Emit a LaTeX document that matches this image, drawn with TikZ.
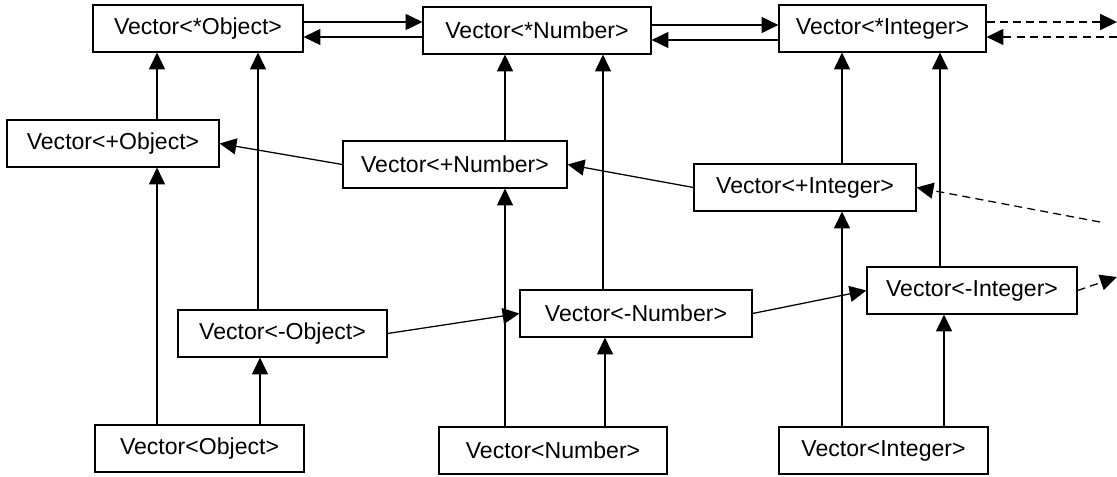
\documentclass[tikz,border=0pt]{standalone}
\usepackage{fontspec}
\setmainfont{Liberation Sans}
\usetikzlibrary{arrows.meta}

\begin{document}
\begin{tikzpicture}[x=0.025cm,y=-0.025cm,
  vec/.style={draw,line width=0.8pt,minimum height=1.175cm,inner sep=0pt,
              font=\fontsize{16.4}{19}\selectfont},
  every edge/.style={draw,line width=0.9pt,-{Triangle[length=0.42cm,width=0.4cm]}},
  dashedge/.style={dash pattern=on 0.2cm off 0.13cm}]
  \useasboundingbox (0,0) rectangle (1117,477);

  % star row
  \node[vec,minimum width=5.25cm]  (sObj) at (198,28.5)   {Vector<*Object>};
  \node[vec,minimum width=5.7cm]   (sNum) at (537,30.5)   {Vector<*Number>};
  \node[vec,minimum width=5.175cm] (sInt) at (882.5,28.5) {Vector<*Integer>};
  % plus row
  \node[vec,minimum width=5.3cm]   (pObj) at (113,143.5)  {Vector<+Object>};
  \node[vec,minimum width=5.6cm]   (pNum) at (455,164.5)  {Vector<+Number>};
  \node[vec,minimum width=5.55cm]  (pInt) at (805,187.5)  {Vector<+Integer>};
  % minus row
  \node[vec,minimum width=5.225cm] (mObj) at (282.5,333.5) {Vector<-Object>};
  \node[vec,minimum width=5.8cm]   (mNum) at (636,313.5)   {Vector<-Number>};
  \node[vec,minimum width=5.25cm]  (mInt) at (972,290.5)   {Vector<-Integer>};
  % plain row
  \node[vec,minimum width=5.225cm] (Obj) at (199.5,448.5) {Vector<Object>};
  \node[vec,minimum width=5.7cm]   (Num) at (553,450.5)   {Vector<Number>};
  \node[vec,minimum width=5.225cm] (Int) at (883.5,450.5) {Vector<Integer>};

  \coordinate (sOut) at (1117,22);
  \coordinate (sIn)  at (1117,37);
  \coordinate (pIn)  at (1100,222);
  \coordinate (mOut) at (1117,277);

  \path
    (sObj.east |- 0,22) edge (sNum.west |- 0,22)
    (sNum.west |- 0,37) edge (sObj.east |- 0,37)
    (sNum.east |- 0,25) edge (sInt.west |- 0,25)
    (sInt.west |- 0,40) edge (sNum.east |- 0,40)
    (sInt.east |- sOut) edge [dashedge] (sOut)
    (sIn) edge [dashedge] (sInt.east |- sIn)

    (157,0 |- Obj.north)  edge (157,0 |- pObj.south)
    (157,0 |- pObj.north) edge (157,0 |- sObj.south)
    (260,0 |- Obj.north)  edge (260,0 |- mObj.south)
    (258,0 |- mObj.north) edge (258,0 |- sObj.south)

    (505,0 |- Num.north)  edge (505,0 |- pNum.south)
    (505,0 |- pNum.north) edge (505,0 |- sNum.south)
    (605,0 |- Num.north)  edge (605,0 |- mNum.south)
    (603,0 |- mNum.north) edge (603,0 |- sNum.south)

    (842,0 |- Int.north)  edge (842,0 |- pInt.south)
    (842,0 |- pInt.north) edge (842,0 |- sInt.south)
    (944,0 |- Int.north)  edge (944,0 |- mInt.south)
    (940,0 |- mInt.north) edge (940,0 |- sInt.south)

    (pNum.west) edge (pObj.east)
    (pInt.west) edge (pNum.east)
    (pIn) edge [dashedge] (pInt.east)

    (mObj.east) edge (mNum.west)
    (mNum.east) edge (mInt.west)
    (mInt.east) edge [dashedge] (mOut);
\end{tikzpicture}
\end{document}
